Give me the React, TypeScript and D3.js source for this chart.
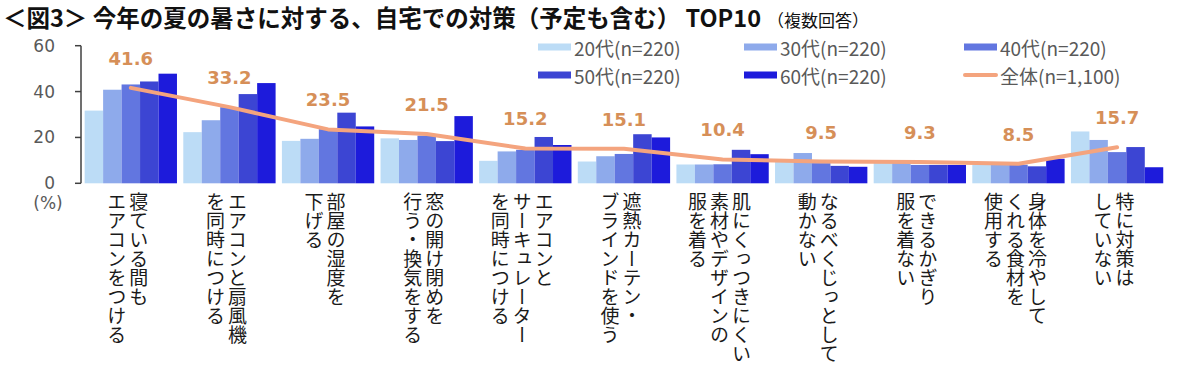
import React from 'react';
import * as d3 from 'd3';

// ---------- data ----------
const categories = [
  '寝ている間もエアコンをつける',
  'エアコンと扇風機を同時につける',
  '部屋の湿度を下げる',
  '窓の開け閉めを行う・換気をする',
  'エアコンとサーキュレーターを同時につける',
  '遮熱カーテン・ブラインドを使う',
  '肌にくっつきにくい素材やデザインの服を着る',
  'なるべくじっとして動かない',
  'できるかぎり服を着ない',
  '身体を冷やしてくれる食材を使用する',
  '特に対策はしていない',
];
const categoryLines = [
  ['寝ている間も', 'エアコンをつける'],
  ['エアコンと扇風機', 'を同時につける'],
  ['部屋の湿度を', '下げる'],
  ['窓の開け閉めを', '行う・換気をする'],
  ['エアコンと', 'サーキュレーター', 'を同時につける'],
  ['遮熱カーテン・', 'ブラインドを使う'],
  ['肌にくっつきにくい', '素材やデザインの', '服を着る'],
  ['なるべくじっとして', '動かない'],
  ['できるかぎり', '服を着ない'],
  ['身体を冷やして', 'くれる食材を', '使用する'],
  ['特に対策は', 'していない'],
];
const seriesNames = ['20代(n=220)', '30代(n=220)', '40代(n=220)', '50代(n=220)', '60代(n=220)'];
const age20 = [31.7, 22.3, 18.5, 19.6, 9.8, 9.5, 8.2, 10.5, 10.0, 8.1, 22.6];
const age30 = [40.8, 27.5, 19.4, 18.9, 13.9, 11.8, 8.2, 13.2, 10.0, 8.1, 18.9];
const age40 = [43.1, 33.2, 23.6, 20.8, 14.6, 12.8, 8.3, 8.8, 8.0, 8.1, 13.6];
const age50 = [44.4, 38.9, 30.8, 18.4, 20.2, 21.4, 14.6, 7.6, 8.0, 7.4, 15.8];
const age60 = [47.8, 43.7, 24.8, 29.3, 16.7, 20.0, 12.7, 7.2, 8.0, 10.7, 7.0];
const totalName = '全体(n=1,100)';
const total = [41.6, 33.2, 23.5, 21.5, 15.2, 15.1, 10.4, 9.5, 9.3, 8.5, 15.7];
const yTicks = [0, 20, 40, 60];

// ---------- styles ----------
const seriesValues = [age20, age30, age40, age50, age60];
const seriesColors = ['#bcdcf6', '#8eaaeb', '#6276e0', '#3c45d3', '#1d1bdb'];
const lineColor = '#f4a47e';
const labelColor = '#d68f58';
const JP = '"Noto Sans CJK JP", sans-serif';
const NUM = '"DejaVu Sans", "Noto Sans CJK JP", sans-serif';

export default function App() {
  const W = 1200;
  const H = 373;
  const x = d3
    .scaleBand<string>()
    .domain(categories)
    .range([81.5, 1166.4])
    .paddingInner(0.064)
    .paddingOuter(0.032);
  const x1 = d3
    .scaleBand<string>()
    .domain(seriesNames)
    .range([0, x.bandwidth()]);
  const y = d3.scaleLinear().domain([0, 60]).range([183.3, 45.7]);
  const cx = (i: number) => (x(categories[i]) as number) + x.bandwidth() / 2;
  const linePath = d3
    .line<number>()
    .x((_, i) => cx(i))
    .y((d) => y(d))(total) as string;

  const legendItems = [
    { name: seriesNames[0], color: seriesColors[0], type: 'bar' },
    { name: seriesNames[1], color: seriesColors[1], type: 'bar' },
    { name: seriesNames[2], color: seriesColors[2], type: 'bar' },
    { name: seriesNames[3], color: seriesColors[3], type: 'bar' },
    { name: seriesNames[4], color: seriesColors[4], type: 'bar' },
    { name: totalName, color: lineColor, type: 'line' },
  ];
  const legendCols = [538, 744, 964];
  const legendRows = [47, 75];
  const swW = 33;

  const colPitch = 22;

  return (
    <svg
      width={W}
      height={H}
      style={{ position: 'absolute', left: 0, top: 0, background: '#fff' }}
    >
      <rect width={W} height={H} fill="#fff" />
      {/* title */}
      <text x={3} y={27} fontFamily={JP} fontWeight={700} fontSize={23.5} fill="#111">
        ＜図3＞ 今年の夏の暑さに対する、自宅での対策（予定も含む） TOP10
        <tspan fontSize={17} fontWeight={400} dx={6}>（複数回答）</tspan>
      </text>

      {/* legend */}
      {legendItems.map((it, i) => {
        const lx = legendCols[i % 3];
        const ly = legendRows[Math.floor(i / 3)];
        return (
          <g key={it.name}>
            {it.type === 'bar' ? (
              <rect x={lx} y={ly - 3.5} width={swW} height={7} fill={it.color} />
            ) : (
              <line
                x1={lx + 1}
                x2={lx + swW - 1}
                y1={ly}
                y2={ly}
                stroke={it.color}
                strokeWidth={4}
                strokeLinecap="round"
              />
            )}
            <text
              x={lx + swW + 3}
              y={ly}
              dominantBaseline="central"
              fontFamily={JP}
              fontSize={19}
              fill="#595959"
            >
              {it.name}
            </text>
          </g>
        );
      })}

      {/* bars */}
      {seriesValues.map((vals, s) => (
        <g key={seriesNames[s]} fill={seriesColors[s]}>
          {vals.map((v, i) => (
            <rect
              key={i}
              x={(x(categories[i]) as number) + (x1(seriesNames[s]) as number)}
              y={y(v)}
              width={x1.bandwidth()}
              height={y(0) - y(v)}
            />
          ))}
        </g>
      ))}

      {/* total line */}
      <path
        d={linePath}
        fill="none"
        stroke={lineColor}
        strokeWidth={4}
        strokeLinejoin="round"
        strokeLinecap="round"
      />
      {total.map((v, i) => (
        <text
          key={i}
          x={cx(i)}
          y={y(v) - 29.5}
          textAnchor="middle"
          dominantBaseline="central"
          fontFamily={NUM}
          fontWeight={700}
          fontSize={18}
          fill={labelColor}
        >
          {v.toFixed(1)}
        </text>
      ))}

      {/* y axis */}
      <line x1={81} x2={81} y1={y(60)} y2={y(0)} stroke="#404040" strokeWidth={1.5} />
      {yTicks.map((t) => (
        <g key={t}>
          <line x1={75} x2={81} y1={y(t)} y2={y(t)} stroke="#404040" strokeWidth={1.5} />
          <text
            x={55}
            y={y(t)}
            textAnchor="end"
            dominantBaseline="central"
            fontFamily={NUM}
            fontSize={17}
            fill="#595959"
          >
            {t}
          </text>
        </g>
      ))}
      <text
        x={48}
        y={203}
        textAnchor="middle"
        dominantBaseline="central"
        fontFamily={NUM}
        fontSize={17}
        fill="#595959"
      >
        (%)
      </text>

      {/* category labels (vertical) */}
      {categoryLines.map((lines, i) => {
        const center = cx(i) - 3;
        const n = lines.length;
        return (
          <g key={i}>
            {lines.map((ln, j) => (
              <text
                key={j}
                x={center + ((n - 1) / 2 - j) * colPitch}
                y={192}
                fontFamily={JP}
                fontSize={19}
                fill="#1a1a1a"
                style={{ writingMode: 'vertical-rl' }}
              >
                {ln}
              </text>
            ))}
          </g>
        );
      })}
    </svg>
  );
}
